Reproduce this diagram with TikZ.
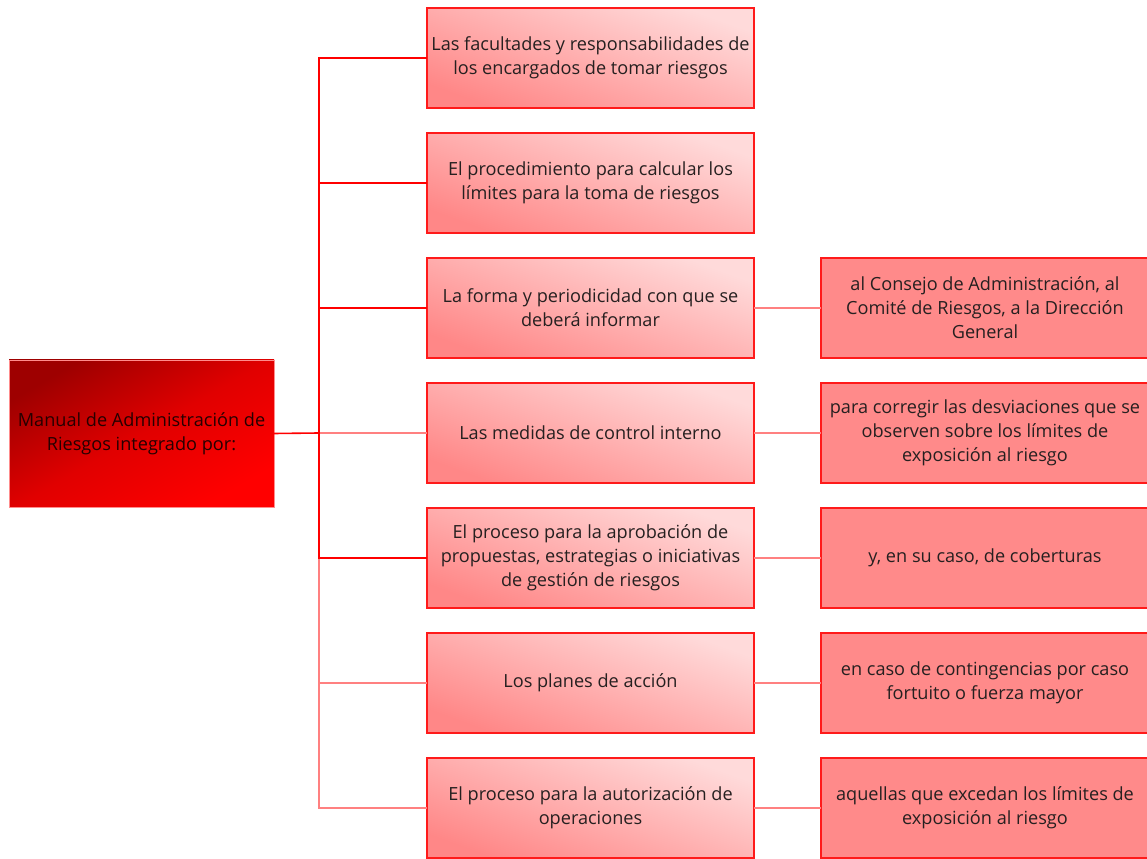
\documentclass[tikz,border=0pt]{standalone}
\usepackage{fontspec}
\setmainfont{Open Sans}
\usepackage{xcolor}
\usetikzlibrary{positioning}

\definecolor{rootdark}{HTML}{9E0000}
\definecolor{rootlight}{HTML}{FF0000}
\definecolor{itemlight}{HTML}{FFDADA}
\definecolor{itemdark}{HTML}{FF8787}
\definecolor{notefill}{HTML}{FF8A8A}
\definecolor{edgered}{HTML}{FF1A1A}
\definecolor{linkpale}{HTML}{FF8080}
\definecolor{textdark}{HTML}{262020}

\begin{document}
\begin{tikzpicture}[x=0.75pt,y=-0.75pt,
  every node/.style={font=\fontsize{13.6}{18}\selectfont, text=textdark, align=center, inner sep=0pt, outer sep=0pt},
  rootbox/.style={draw=red!45, line width=0.6pt, top color=rootdark, bottom color=rootlight, middle color=red!88!black, shading angle=30, minimum width=198.75pt, minimum height=110.25pt, text=black!85!red},
  itembox/.style={draw=edgered, line width=1pt, top color=itemlight, bottom color=itemdark, shading angle=-20, minimum width=245.25pt, minimum height=75pt},
  notebox/.style={draw=edgered, line width=1pt, fill=notefill, minimum width=246pt, minimum height=75pt},
  link/.style={draw=red, line width=1.2pt},
  palelink/.style={draw=linkpale, line width=1.2pt}
]
% page size
\useasboundingbox (0,0) rectangle (1147,859);

% root of the tree
\node[rootbox] (manual) at (141.5,433.5) {Manual de Administración de\\Riesgos integrado por:};

% first level items
\node[itembox] (facultades) at (590.5,58) {Las facultades y responsabilidades de\\los encargados de tomar riesgos};
\node[itembox] (calculo) at (590.5,183) {El procedimiento para calcular los\\límites para la toma de riesgos};
\node[itembox] (informe) at (590.5,308) {La forma y periodicidad con que se\\deberá informar};
\node[itembox] (control) at (590.5,433) {Las medidas de control interno};
\node[itembox] (aprobacion) at (590.5,558) {El proceso para la aprobación de\\propuestas, estrategias o iniciativas\\de gestión de riesgos};
\node[itembox] (planes) at (590.5,683) {Los planes de acción};
\node[itembox] (autorizacion) at (590.5,808) {El proceso para la autorización de\\operaciones};

% second level notes
\node[notebox] (consejo) at (985,308) {al Consejo de Administración, al\\Comité de Riesgos, a la Dirección\\General};
\node[notebox] (desviaciones) at (985,433) {para corregir las desviaciones que se\\observen sobre los límites de\\exposición al riesgo};
\node[notebox] (coberturas) at (985,558) {y, en su caso, de coberturas};
\node[notebox] (contingencias) at (985,683) {en caso de contingencias por caso\\fortuito o fuerza mayor};
\node[notebox] (excedan) at (985,808) {aquellas que excedan los límites de\\exposición al riesgo};

% spine point
\coordinate (spine) at (319,433);

% Add connectors from the root
\draw[palelink] (spine) |- (autorizacion.west);
\draw[palelink] (spine) |- (planes.west);
\draw[palelink] (spine) -- (control.west);
\draw[link] (spine) |- (aprobacion.west);
\draw[link] (spine) |- (informe.west);
\draw[link] (spine) |- (calculo.west);
\draw[link] (spine) |- (facultades.west);
\draw[link] (manual.east) -- (spine);

% Add connectors to the notes
\draw[palelink] (informe) -- (consejo);
\draw[palelink] (control) -- (desviaciones);
\draw[palelink] (aprobacion) -- (coberturas);
\draw[palelink] (planes) -- (contingencias);
\draw[palelink] (autorizacion) -- (excedan);

\end{tikzpicture}
\end{document}
